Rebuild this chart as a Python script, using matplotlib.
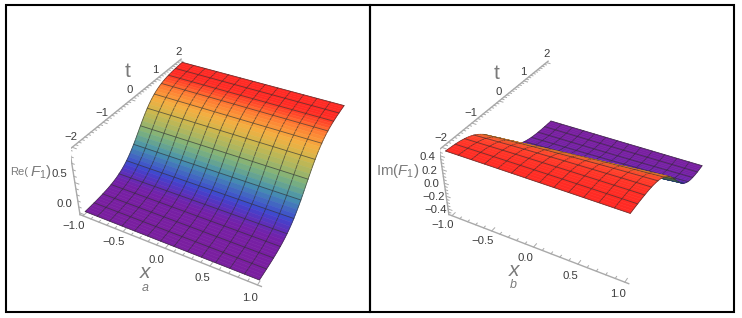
import numpy as np
import matplotlib
matplotlib.use("Agg")
import matplotlib.pyplot as plt
from matplotlib.colors import LinearSegmentedColormap
from matplotlib.patches import Rectangle
from mpl_toolkits.mplot3d import proj3d
from mpl_toolkits.mplot3d.art3d import Line3DCollection

plt.rcParams['font.family'] = ['Liberation Sans', 'DejaVu Sans']
plt.rcParams['mathtext.fontset'] = 'custom'
plt.rcParams['mathtext.rm'] = 'Liberation Sans'
plt.rcParams['mathtext.it'] = 'Liberation Sans:italic'

# ---- data ----
re_f1 = [.0045,.0055,.0067,.0082,.010,.012,.015,.018,.022,.027,.032,.039,.047,.057,.069,.083,.100,.119,.142,.168,
         .198,.232,.269,.310,.354,.401,.450,.500,.550,.599,.646,.690,.731,.768,.802,.832,.858,.881,.900,.917,
         .931,.943,.953,.961,.968,.973,.978,.982,.985,.988,.990,.992,.993]
im_f1 = [.465,.464,.463,.4615,.460,.4585,.4565,.454,.4505,.4475,.4435,.4385,.4325,.4255,.416,.4065,.395,.3815,.3655,.347,
         .325,.3012,.274,.2449,.2116,.1755,.137,.096,.054,.011,-.0325,-.0753,-.1168,-.1563,-.1936,-.2285,-.2596,-.2882,-.3134,-.3367,
         -.3565,-.374,-.3885,-.401,-.4115,-.42,-.429,-.4355,-.441,-.4455,-.449,-.4525,-.4555,-.4575,-.459,-.461,-.4625,-.4635,-.4645,-.4655]
x_majors = [-1.0, -0.5, 0.0, 0.5, 1.0]
t_majors = [-2, -1, 0, 1, 2]
z_majors_a = [0.0, 0.5]
z_majors_b = [-0.4, -0.2, 0.0, 0.2, 0.4]

W, H = 742, 318
CELLS = 13; SUB = 4
rainbow_a = LinearSegmentedColormap.from_list('rba', [
    (0.0, '#7a1fa0'), (0.06, '#7420a8'), (0.17, '#3f45d0'), (0.34, '#4590b0'), (0.5, '#7fb27a'),
    (0.70, '#c8b850'), (0.83, '#f5ae40'), (0.93, '#ff7a32'), (0.985, '#ff2a24'), (1.0, '#ff2a24')])
rainbow_b = LinearSegmentedColormap.from_list('rbb', [
    (0.0, '#7a1fa0'), (0.12, '#6a22b0'), (0.25, '#3f45d0'), (0.38, '#4590b0'), (0.5, '#7fb27a'),
    (0.65, '#d8b84a'), (0.78, '#ff9a38'), (0.9, '#ff4a2c'), (1.0, '#ff2a24')])

fig = plt.figure(figsize=(W / 100, H / 100), dpi=100)
for left in (6, 370):
    fig.add_artist(Rectangle((left / W, 1 - 312 / H), 364 / W, 307 / H, transform=fig.transFigure,
                             fill=False, ec='k', lw=1.5))

XL = (-1.04, 1.04); TL = (-2.08, 2.08)


def setup(ax, zl):
    ax.set_xlim(*XL, view_margin=0); ax.set_ylim(*TL, view_margin=0); ax.set_zlim(*zl, view_margin=0)
    ax.set_box_aspect((1, 1, 0.4))


def surface_grid(profile, sheared):
    """Surface over (x, t). Where sheared, each x column reads the profile half a step further along."""
    prof = np.array(profile)
    n_t = CELLS * SUB + 1; n_x = CELLS + 1
    t = np.linspace(-2, 2, n_t); x = np.linspace(-1, 1, n_x)
    if not sheared:
        return x, t, np.tile(prof, (n_x, 1))
    Z = np.zeros((n_x, n_t))
    for j in range(n_x):
        off = CELLS // 2 + 0.5 - j / 2
        lo = int(np.floor(off))
        if off == lo:
            Z[j] = prof[lo:lo + n_t]
        else:
            Z[j] = 0.5 * (prof[lo:lo + n_t] + prof[lo + 1:lo + 1 + n_t])
    return x, t, Z


def panel(profile, sheared, cmap, zl, zmaj, view, sol, zshift, zpush):
    ox, oy, s = sol
    ax = fig.add_axes([0, 0, 1, 1], projection='3d', computed_zorder=False)
    setup(ax, zl)
    ax.view_init(elev=view[0], azim=view[1], roll=view[2])
    ax.set_proj_type('persp', focal_length=view[3])
    x0, x1 = ax.viewLim.intervalx; y0, y1 = ax.viewLim.intervaly
    side = (x1 - x0) * s
    ax.set_position([(ox + x0 * s) / W, (H - oy + y0 * s) / H, side / W, side / H])
    ax.set_axis_off(); ax.patch.set_alpha(0)

    x, t, Z = surface_grid(profile, sheared)
    zmin, zmax = Z.min(), Z.max()
    line_c = (0.17, 0.17, 0.17)
    lw = 0.62; la = 0.65
    order = 0
    for i in range(len(t) - 2, -1, -1):
        TT, XX = np.meshgrid(t[i:i + 2], x)
        ZZ = Z[:, i:i + 2]
        mid = 0.25 * (ZZ[:-1, 0] + ZZ[1:, 0] + ZZ[:-1, 1] + ZZ[1:, 1])
        col = cmap((mid - zmin) / (zmax - zmin))
        slope = (ZZ[:-1, 1] - ZZ[:-1, 0]) / (t[i + 1] - t[i])
        shade = np.clip(1 + (np.minimum(slope, -0.25) + 0.25) * 1.4, 0.25, 1)[:, None]
        col[:, :3] = col[:, :3] * shade
        ax.plot_surface(XX, TT, ZZ, facecolors=col[:, None, :], rstride=1, cstride=1, shade=False,
                        linewidth=0.4, zorder=3 + order)
        segs = [[(x[j], t[i], Z[j, i]), (x[j], t[i + 1], Z[j, i + 1])] for j in range(len(x))]
        ax.add_collection3d(Line3DCollection(segs, colors=[line_c], linewidths=lw, alpha=la, zorder=4 + order))
        rows = [i + 1] if (i + 1) % SUB == 0 else []
        if i == 0:
            rows.append(0)
        for r in rows:
            ax.plot(x, np.full_like(x, t[r]), Z[:, r], color=line_c, lw=lw, alpha=la, zorder=4 + order)
        order += 2

    ac = '#a9a9a9'; tc = '#3c3c3c'
    kw = dict(color=ac, lw=1.0, zorder=1)
    zb, zt = zl
    ax.plot(XL, [TL[0]] * 2, [zb] * 2, **kw)
    ax.plot([XL[0]] * 2, [TL[0]] * 2, zl, **kw)
    ax.plot([XL[0]] * 2, TL, [zt] * 2, **kw)
    tick = dict(color=ac, lw=0.7, zorder=1)
    for v in np.arange(-10, 11) / 10:
        L = .11 if abs(v * 2 - round(v * 2)) < 1e-6 else .06
        ax.plot([v, v], [TL[0], TL[0] + L], [zb, zb], **tick)
    for v in np.arange(-20, 21) / 5 / 2:
        L = .05 if abs(v - round(v)) < 1e-6 else .03
        ax.plot([XL[0], XL[0] + L], [v, v], [zt, zt], **tick)
    zt_step = 0.1 if len(zmaj) == 2 else 0.05
    for v in np.arange(np.ceil(zb / zt_step), np.floor(zt / zt_step) + 1) * zt_step:
        L = .05 if min(abs(v - m) for m in zmaj) < 1e-6 else .03
        ax.plot([XL[0], XL[0] + L], [TL[0]] * 2, [v, v], **tick)

    M = ax.get_proj()

    def label(px3, py3, pz3, txt):
        X, Y, _ = proj3d.proj_transform(px3, py3, pz3, M)
        fig.text((ox + s * X) / W, (H - oy + s * Y) / H, txt, ha='center', va='center', fontsize=8.2, color=tc)

    fmt = lambda v: f'{v:.1f}'.replace('-', '\u2212')
    for v in x_majors:
        label(v + 0.01, TL[0] - 0.34, zb, fmt(v))
    for v in t_majors:
        label(XL[0], v, zt + 0.14 * (zt - zb), f'{v}'.replace('-', '\u2212'))
    for v in zmaj:
        label(XL[0] - zpush, TL[0], v + zshift, fmt(v))


def ftxt(px, py, s, **k):
    fig.text(px / W, 1 - py / H, s, ha='center', va='center', color='#7a7a7a', **k)


zl_a = (-0.03, 1.01); zl_b = (-0.49, 0.49)
view_a = (36.47, -61.29, 0.07, 0.44); place_a = (216.2, 158.5, 1529.7)
view_b = (35.87, -61.77, -0.14, 0.46); place_b = (583.5, 158.9, 1511.1)

panel(re_f1, False, rainbow_a, zl_a, z_majors_a, view_a, place_a, 0.05, 0.19)
panel(im_f1, True, rainbow_b, zl_b, z_majors_b, view_b, place_b, -0.09, 0.17)

ftxt(128, 71, 't', fontsize=15)
ftxt(145, 272, 'x', fontsize=15, style='italic')
ftxt(145, 288, 'a', fontsize=9, style='italic')
ftxt(19, 172, 'Re(', fontsize=8)
ftxt(41, 172, r'$F_1$)', fontsize=11)
ftxt(497, 73, 't', fontsize=15)
ftxt(514, 271, 'x', fontsize=15, style='italic')
ftxt(513, 285, 'b', fontsize=9, style='italic')
ftxt(398, 171, r'Im($F_1$)', fontsize=10.8)

fig.savefig('out.png', dpi=100)
